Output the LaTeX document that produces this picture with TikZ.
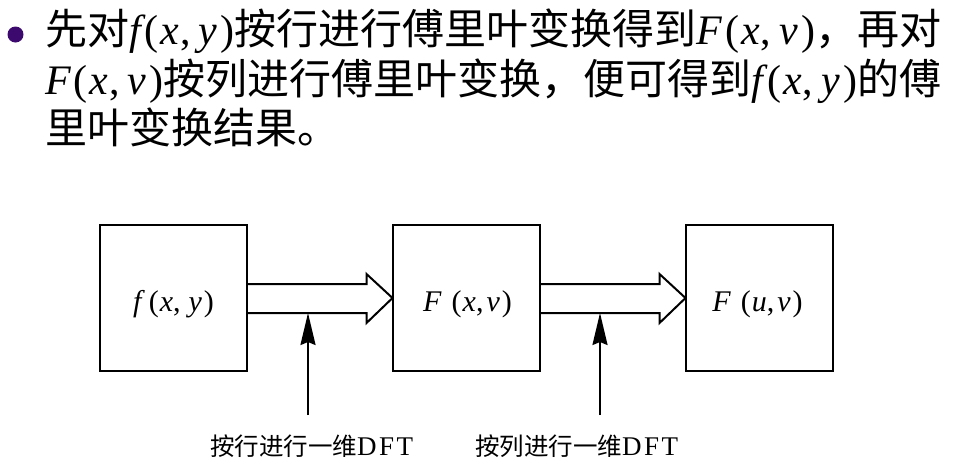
\documentclass[tikz,border=0pt]{standalone}
\usepackage{fontspec}
\setmainfont{Liberation Serif}
\newfontfamily\cjk{Noto Sans CJK SC}
\usetikzlibrary{arrows.meta,calc}
\definecolor{bulletpurple}{RGB}{60,10,110}
\tikzset{
  block/.style={draw, line width=2pt, minimum width=147pt, minimum height=146pt,
    inner sep=0pt, outer sep=0pt},
  fatarrow/.style={draw, line width=2pt, line join=miter},
  pointer/.style={line width=2pt, -{Stealth[length=32pt,width=15pt,inset=3pt]}},
  bodyline/.style={anchor=base west, inner sep=0pt, font=\fontsize{42}{49}\selectfont},
  steplabel/.style={anchor=base west, inner sep=0pt, font=\fontsize{24.5}{28}\selectfont},
  blocklabel/.style={anchor=base, inner sep=0pt, font=\fontsize{30}{34}\selectfont}
}
% italic variable and upright serif text inside CJK runs
\newcommand{\vi}[1]{{\rmfamily\itshape #1}}
\newcommand{\ur}[1]{{\rmfamily #1}}
\newcommand{\fxy}{\vi{f}\kern4pt\ur{(}\kern2pt\vi{x}\kern1pt\ur{,}\kern8pt\vi{y}\kern3pt\ur{)}}
\newcommand{\Fxv}{\vi{F}\kern3pt\ur{(}\kern2pt\vi{x}\kern1pt\ur{,}\kern8pt\vi{v}\kern3pt\ur{)}}
\newcommand{\dftword}{{\rmfamily\fontsize{27}{30}\selectfont D\kern2.5pt F\kern2.5pt T}}
\begin{document}
\begin{tikzpicture}[x=1pt,y=-1pt]
  \useasboundingbox (0,0) rectangle (970,472);
  \fill[white] (0,0) rectangle (970,472);

  % bullet paragraph
  \node[circle, fill=bulletpurple, minimum size=16pt, inner sep=0pt] (dot) at (15.5,34.5) {};
  \node[bodyline] (t1) at (45,44) {\cjk 先对\fxy 按行进行傅里叶变换得到\Fxv，再对};
  \node[bodyline] (t2) at (45,94) {\cjk \Fxv 按列进行傅里叶变换，便可得到\fxy 的傅};
  \node[bodyline] (t3) at (45,143) {\cjk 里叶变换结果。};

  % processing blocks
  \node[block] (b1) at (173.5,298) {};
  \node[block] (b2) at (466,298) {};
  \node[block] (b3) at (759,298) {};
  \node[blocklabel] (f1) at (173.5,311) {\textit{f}\kern4pt(\kern1pt\textit{x},\kern8pt\textit{y}\kern2pt)};
  \node[blocklabel] (f2) at (467.5,311) {\textit{F}\kern10pt(\kern1pt\textit{x},\kern3pt\textit{v}\kern2pt)};
  \node[blocklabel] (f3) at (757.5,311) {\textit{F}\kern10pt(\kern1pt\textit{u},\kern3pt\textit{v}\kern2pt)};

  % hollow transfer arrows between blocks
  \draw[fatarrow] ([yshift=14pt]b1.east) -- ([xshift=-26pt,yshift=14pt]b2.west)
    -- ([xshift=-26pt,yshift=24pt]b2.west) -- (b2.west)
    -- ([xshift=-26pt,yshift=-25pt]b2.west) -- ([xshift=-26pt,yshift=-15pt]b2.west)
    -- ([yshift=-15pt]b1.east);
  \draw[fatarrow] ([yshift=14pt]b2.east) -- ([xshift=-26pt,yshift=14pt]b3.west)
    -- ([xshift=-26pt,yshift=24pt]b3.west) -- (b3.west)
    -- ([xshift=-26pt,yshift=-25pt]b3.west) -- ([xshift=-26pt,yshift=-15pt]b3.west)
    -- ([yshift=-15pt]b2.east);

  % operation pointers and their captions
  \coordinate (p1) at (308,415);
  \coordinate (q1) at (308,313);
  \coordinate (p2) at (600,415);
  \coordinate (q2) at (600,313);
  \draw[pointer] (p1) -- (q1);
  \draw[pointer] (p2) -- (q2);
  \node[steplabel] (l1) at (210,455) {\cjk 按行进行一维\dftword};
  \node[steplabel] (l2) at (475,455) {\cjk 按列进行一维\dftword};
\end{tikzpicture}
\end{document}
